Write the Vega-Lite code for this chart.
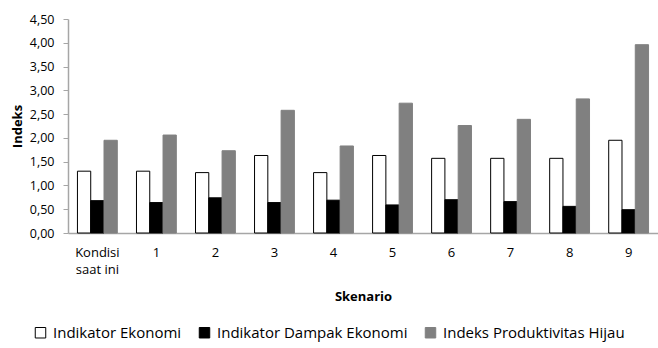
{
  "$schema": "https://vega.github.io/schema/vega-lite/v6.json",
  "width": 590,
  "height": 214,
  "autosize": "none",
  "padding": {"left": 68, "top": 19, "right": 0, "bottom": 115},
  "background": "white",
  "config": {
    "font": "Open Sans",
    "view": {"stroke": null}
  },
  "data": {
    "values": [
      {"skenario": "Kondisi saat ini", "seri": "Indikator Ekonomi", "nilai": 1.30},
      {"skenario": "Kondisi saat ini", "seri": "Indikator Dampak Ekonomi", "nilai": 0.68},
      {"skenario": "Kondisi saat ini", "seri": "Indeks Produktivitas Hijau", "nilai": 1.95},
      {"skenario": "1", "seri": "Indikator Ekonomi", "nilai": 1.30},
      {"skenario": "1", "seri": "Indikator Dampak Ekonomi", "nilai": 0.64},
      {"skenario": "1", "seri": "Indeks Produktivitas Hijau", "nilai": 2.06},
      {"skenario": "2", "seri": "Indikator Ekonomi", "nilai": 1.27},
      {"skenario": "2", "seri": "Indikator Dampak Ekonomi", "nilai": 0.74},
      {"skenario": "2", "seri": "Indeks Produktivitas Hijau", "nilai": 1.73},
      {"skenario": "3", "seri": "Indikator Ekonomi", "nilai": 1.63},
      {"skenario": "3", "seri": "Indikator Dampak Ekonomi", "nilai": 0.64},
      {"skenario": "3", "seri": "Indeks Produktivitas Hijau", "nilai": 2.58},
      {"skenario": "4", "seri": "Indikator Ekonomi", "nilai": 1.27},
      {"skenario": "4", "seri": "Indikator Dampak Ekonomi", "nilai": 0.69},
      {"skenario": "4", "seri": "Indeks Produktivitas Hijau", "nilai": 1.83},
      {"skenario": "5", "seri": "Indikator Ekonomi", "nilai": 1.63},
      {"skenario": "5", "seri": "Indikator Dampak Ekonomi", "nilai": 0.59},
      {"skenario": "5", "seri": "Indeks Produktivitas Hijau", "nilai": 2.73},
      {"skenario": "6", "seri": "Indikator Ekonomi", "nilai": 1.57},
      {"skenario": "6", "seri": "Indikator Dampak Ekonomi", "nilai": 0.70},
      {"skenario": "6", "seri": "Indeks Produktivitas Hijau", "nilai": 2.26},
      {"skenario": "7", "seri": "Indikator Ekonomi", "nilai": 1.57},
      {"skenario": "7", "seri": "Indikator Dampak Ekonomi", "nilai": 0.66},
      {"skenario": "7", "seri": "Indeks Produktivitas Hijau", "nilai": 2.39},
      {"skenario": "8", "seri": "Indikator Ekonomi", "nilai": 1.57},
      {"skenario": "8", "seri": "Indikator Dampak Ekonomi", "nilai": 0.56},
      {"skenario": "8", "seri": "Indeks Produktivitas Hijau", "nilai": 2.82},
      {"skenario": "9", "seri": "Indikator Ekonomi", "nilai": 1.95},
      {"skenario": "9", "seri": "Indikator Dampak Ekonomi", "nilai": 0.49},
      {"skenario": "9", "seri": "Indeks Produktivitas Hijau", "nilai": 3.96}
    ]
  },
  "mark": {"type": "bar", "strokeWidth": 1},
  "encoding": {
    "x": {
      "field": "skenario",
      "type": "nominal",
      "sort": null,
      "scale": {"paddingInner": 0.325, "paddingOuter": 0.16},
      "axis": {
        "title": "Skenario",
        "titleFontWeight": "bold",
        "titleFontSize": 13,
        "titlePadding": 14,
        "labelAngle": 0,
        "labelFontSize": 13,
        "labelColor": "#000000",
        "labelPadding": 13,
        "labelLineHeight": 17,
        "labelExpr": "datum.value == 'Kondisi saat ini' ? ['Kondisi', 'saat ini'] : datum.value",
        "ticks": false,
        "domainColor": "#a6a6a6",
        "domainWidth": 1.5
      }
    },
    "xOffset": {
      "field": "seri",
      "type": "nominal",
      "scale": {"domain": ["Indikator Ekonomi", "Indikator Dampak Ekonomi", "Indeks Produktivitas Hijau"], "paddingInner": 0, "paddingOuter": 0}
    },
    "y": {
      "field": "nilai",
      "type": "quantitative",
      "scale": {"domain": [0, 4.5], "nice": false},
      "axis": {
        "title": "Indeks",
        "titleFontWeight": "bold",
        "titleFontSize": 13,
        "titlePadding": 5,
        "values": [0, 0.5, 1, 1.5, 2, 2.5, 3, 3.5, 4, 4.5],
        "labelExpr": "replace(format(datum.value, '.2f'), '.', ',')",
        "labelFontSize": 12.5,
        "labelColor": "#000000",
        "labelPadding": 9,
        "grid": false,
        "tickColor": "#a6a6a6",
        "tickSize": 5,
        "domainColor": "#a6a6a6",
        "domainWidth": 1.5
      }
    },
    "fill": {
      "field": "seri",
      "type": "nominal",
      "scale": {"domain": ["Indikator Ekonomi", "Indikator Dampak Ekonomi", "Indeks Produktivitas Hijau"], "range": ["#ffffff", "#000000", "#808080"]},
      "legend": {
        "title": null,
        "orient": "none",
        "direction": "horizontal",
        "legendX": -35,
        "legendY": 306,
        "symbolType": "square",
        "symbolSize": 110,
        "symbolStrokeWidth": 1,
        "labelFontSize": 15,
        "labelColor": "#000000",
        "labelLimit": 0,
        "columnPadding": 15,
        "labelOffset": 5
      }
    },
    "stroke": {
      "field": "seri",
      "type": "nominal",
      "scale": {"domain": ["Indikator Ekonomi", "Indikator Dampak Ekonomi", "Indeks Produktivitas Hijau"], "range": ["#000000", "#000000", "#808080"]},
      "legend": null
    }
  }
}
